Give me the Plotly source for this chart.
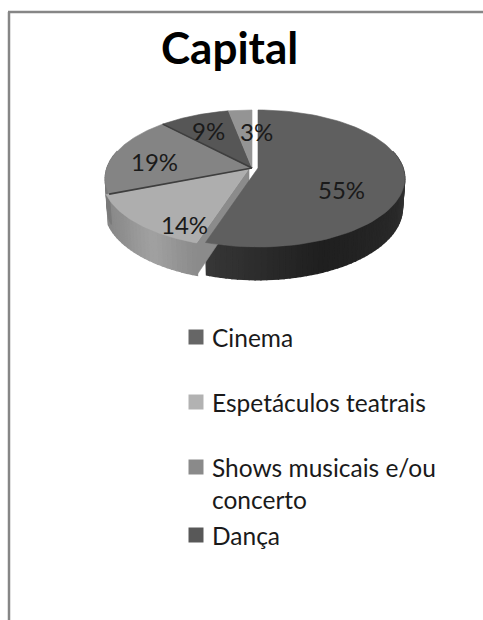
import numpy as np
import plotly.graph_objects as go

# Data
categories = ["Cinema", "Espetáculos teatrais", "Shows musicais e/ou concerto", "Dança", "Outros"]
percent_values = [55, 14, 19, 9, 3]
chart_title = "Capital"

# Styles / layout
top_colors = ["#5f5f5f", "#aeaeae", "#848484", "#565656", "#949494"]
wall_stops = [("#474747", "#2a2a2a", "#1f1f1f", "#383838"),
              ("#8c8c8c", "#a2a2a2", "#909090", "#868686"),
              ("#7a7a7a", "#7a7a7a"), ("#444444", "#444444"), ("#777777", "#777777")]
RX, RY, K, DEPTH, RING = 145.0, 66.9, 0.153, 29.0, 0.985
APEX = [(258.0, 168.0), (249.0, 168.5), (252.0, 168.0), (252.0, 168.0), (252.0, 168.0)]
FONT = "Lato, Carlito, Calibri, sans-serif"
label_pos = [(341, 189), (184, 224), (154, 161), (208, 130), (256, 131)]
legend_entries = [(0, "Cinema", 337), (1, "Espetáculos teatrais", 402),
                  (2, "Shows musicais e/ou<br>concerto", 467), (3, "Dança", 535)]
legend_box_x, legend_text_x = 196, 210


def proj(theta_deg, apex, r=1.0, depth=0.0):
    t = np.radians(theta_deg)
    u, v = r * np.sin(t), r * np.cos(t)
    w = 1 + K * v
    return apex[0] + RX * u / w, apex[1] - RY * v / w + depth / w


def hex2rgb(h):
    return np.array([int(h[i:i + 2], 16) for i in (1, 3, 5)], float)


def grad(stops, f):
    pos = f * (len(stops) - 1)
    i = min(int(pos), len(stops) - 2)
    c = hex2rgb(stops[i]) * (1 - (pos - i)) + hex2rgb(stops[i + 1]) * (pos - i)
    return "rgb(%d,%d,%d)" % tuple(c)


def poly(fig, xs, ys, color, lw=0.6):
    fig.add_trace(go.Scatter(x=list(xs), y=list(ys), mode="lines", fill="toself", fillcolor=color,
                             line=dict(color=color, width=lw), hoverinfo="skip", showlegend=False))


edges = np.concatenate([[0], np.cumsum(percent_values)]) * 3.6
fig = go.Figure()

# Outer walls
for i in range(len(percent_values)):
    a, b = max(edges[i], 75), min(edges[i + 1], 285)
    if a >= b:
        continue
    steps = np.arange(a, b + 1e-6, 2.0)
    if steps[-1] < b:
        steps = np.append(steps, b)
    for s, e in zip(steps[:-1], steps[1:]):
        th = np.linspace(s, e, 3)
        xt, yt = proj(th, APEX[i])
        xb, yb = proj(th[::-1], APEX[i], r=RING, depth=DEPTH)
        poly(fig, np.r_[xt, xb, xt[0]], np.r_[yt, yb, yt[0]], grad(wall_stops[i], (s - a) / (b - a)), lw=1.4)

# Cut face of the second slice, next to the exploded first slice
tipx, tipy = proj(edges[1], APEX[1])
_, tipyb = proj(edges[1], APEX[1], r=RING, depth=DEPTH)
poly(fig, [APEX[1][0], tipx, tipx, APEX[1][0], APEX[1][0]],
     [APEX[1][1], tipy, tipyb, APEX[1][1] + DEPTH, APEX[1][1]], "#8b8b8b")

# Top faces
for i in [1, 2, 3, 4, 0]:
    th = np.linspace(edges[i], edges[i + 1], 80)
    x, y = proj(th, APEX[i])
    poly(fig, np.r_[APEX[i][0], x, APEX[i][0]], np.r_[APEX[i][1], y, APEX[i][1]], top_colors[i])

# Dark slice separators
for edge in (edges[2], edges[3]):
    ex, ey = proj(edge, APEX[2])
    fig.add_trace(go.Scatter(x=[APEX[2][0], ex], y=[APEX[2][1], ey], mode="lines",
                             line=dict(color="#3e3e3e", width=1.6), hoverinfo="skip", showlegend=False))

# Legend swatches
fig.add_trace(go.Scatter(x=[legend_box_x] * len(legend_entries), y=[e[2] for e in legend_entries], mode="markers",
                         marker=dict(symbol="square", size=15,
                                     color=["#666666", "#b2b2b2", "#8a8a8a", "#585858"]),
                         hoverinfo="skip", showlegend=False))

ann = [dict(x=229, y=47, text=chart_title, showarrow=False, xanchor="center", yanchor="middle",
            font=dict(family=FONT, size=44, color="#000000", weight="bold"))]
for v, (lx, ly) in zip(percent_values, label_pos):
    ann.append(dict(x=lx, y=ly, text=f"{v}%", showarrow=False, xanchor="center", yanchor="middle",
                    font=dict(family=FONT, size=24, color="#1a1a1a")))
for _, txt, ly in legend_entries:
    two = "<br>" in txt
    ann.append(dict(x=legend_text_x, y=ly, text=txt, showarrow=False, xanchor="left",
                    yanchor="top" if two else "middle", yshift=16 if two else 0,
                    align="left", font=dict(family=FONT, size=24.5, color="#1a1a1a")))

fig.update_layout(
    width=483, height=620, margin=dict(l=0, r=0, t=0, b=0),
    paper_bgcolor="#ffffff", plot_bgcolor="#ffffff", showlegend=False,
    xaxis=dict(range=[0, 483], visible=False, fixedrange=True),
    yaxis=dict(range=[620, 0], visible=False, fixedrange=True),
    annotations=ann,
    shapes=[dict(type="line", x0=9, x1=9, y0=12, y1=620, line=dict(color="#868686", width=2.5)),
            dict(type="line", x0=8, x1=483, y0=12, y1=12, line=dict(color="#868686", width=2.5))],
)
fig.write_html("out.html", config=dict(displayModeBar=False),
               post_script="document.body.style.margin='0';document.documentElement.style.overflow='hidden';")
